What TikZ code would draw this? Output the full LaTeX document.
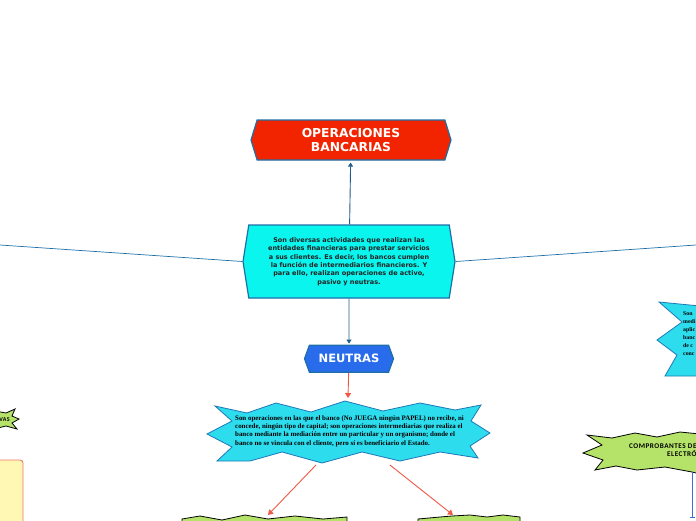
\documentclass[tikz,border=0pt]{standalone}
\usepackage{fontspec}
\setmainfont{Liberation Serif}
\newfontfamily\verd{DejaVu Sans}
\newfontfamily\carl[LetterSpace=7]{Carlito}
\usepackage{xcolor}
\usetikzlibrary{shapes,shapes.symbols}
\usetikzlibrary{arrows.meta}
\usetikzlibrary{positioning}

\definecolor{opred}{RGB}{242,36,0}
\definecolor{boxblue}{RGB}{30,110,168}
\definecolor{desccyan}{RGB}{10,245,238}
\definecolor{neublue}{RGB}{40,108,235}
\definecolor{burstcyan}{RGB}{45,221,238}
\definecolor{burstblue}{RGB}{30,120,184}
\definecolor{kidgreen}{RGB}{181,227,106}
\definecolor{linkblue}{RGB}{31,92,138}
\definecolor{arrowred}{RGB}{238,88,68}
\definecolor{notefill}{RGB}{255,247,180}
\definecolor{noteedge}{RGB}{240,122,106}
\definecolor{vline}{RGB}{59,111,214}
\definecolor{textdark}{RGB}{34,34,34}

\begin{document}
\begin{tikzpicture}[x=1pt,y=-1pt]
\tikzset{hexbox/.style={signal,signal to=west and east,draw=boxblue,line width=1.2pt,align=center,inner sep=0pt}}
\tikzset{link/.style={draw=linkblue,line width=0.9pt,-{Triangle[width=5pt,length=4pt]}}}
\tikzset{redlink/.style={draw=arrowred,line width=0.9pt,-{Triangle[width=6pt,length=5pt]}}}
\tikzset{side/.style={draw=boxblue,line width=0.7pt}}
\tikzset{burst/.style={fill=burstcyan,draw=burstblue,line width=0.8pt}}
\tikzset{kidburst/.style={fill=kidgreen,draw=black,line width=0.8pt}}
\useasboundingbox (0,0) rectangle (696,520);
\clip (0,0) rectangle (696,520);

% main boxes
\node[hexbox,fill=opred,text=white,minimum width=200pt,minimum height=40pt,signal pointer angle=146,font=\verd\bfseries\fontsize{12.3}{14.5}\selectfont](ops) at (351,140){OPERACIONES\\BANCARIAS};
\node[hexbox,fill=desccyan,text=textdark,minimum width=212pt,minimum height=73pt,signal pointer angle=162,font=\verd\bfseries\fontsize{6.5}{8.4}\selectfont](desc) at (349,261.5){Son diversas actividades que realizan las\\entidades financieras para prestar servicios\\a sus clientes. Es decir, los bancos cumplen\\la función de intermediarios financieros. Y\\para ello, realizan operaciones de activo,\\pasivo y neutras.};
\node[hexbox,fill=neublue,text=white,minimum width=89pt,minimum height=27pt,signal pointer angle=140,font=\verd\bfseries\fontsize{11.5}{14}\selectfont](neu)[below=46pt of desc]{NEUTRAS};

\coordinate (lftend) at (0,245);
\coordinate (rgtend) at (696,245);
\draw[link,shorten >=2pt](desc) -- (ops);
\draw[link,shorten >=1pt](desc) -- (neu);
\draw[side](desc.west) -- (lftend);
\draw[side](desc.east) -- (rgtend);

% neutras burst
\draw[burst](215,406) -- (247,413) -- (276,403) -- (311,412) -- (345,401) -- (383,411) -- (420,403) -- (455,410) -- (481,405) -- (471,421) -- (490,433) -- (470,446) -- (478,458) -- (440,452) -- (400,461) -- (362,452) -- (322,463) -- (282,452) -- (250,461) -- (217,461) -- (232,447) -- (207,434) -- (232,421) -- cycle;
\node[align=left,text=black,inner sep=0pt,anchor=north west,font=\bfseries\fontsize{6.9}{8.2}\selectfont](neudesc) at (235,415.5){Son operaciones en las que el banco (No JUEGA ningún PAPEL) no recibe, ni\\concede, ningún tipo de capital; son operaciones intermediarias que realiza el\\banco mediante la mediación entre un particular y un organismo; donde el\\banco no se vincula con el cliente, pero sí es beneficiario el Estado.};
\coordinate (neupk) at (348,398);
\draw[redlink](neu) -- (neupk);

% children below
\draw[kidburst](182,519) -- (200,516) -- (222,520) -- (245,515) -- (268,519) -- (295,516) -- (323,519) -- (347,517) -- (347,530) -- (182,530) -- cycle;
\draw[kidburst](418,519) -- (440,517) -- (452,516) -- (470,515) -- (487,517) -- (503,515) -- (520,517) -- (520,530) -- (418,530) -- cycle;
\coordinate (lfrom) at (316,465);
\coordinate (rfrom) at (390,465);
\coordinate (leftkid) at (268,515);
\coordinate (rightkid) at (453,515);
\draw[redlink](lfrom) -- (leftkid);
\draw[redlink](rfrom) -- (rightkid);

% left side
\draw[kidburst](-10,410) -- (6,413) -- (15,409) -- (12,416) -- (19,419) -- (12,423) -- (17,429) -- (6,426) -- (-10,430) -- cycle;
\node[anchor=east,inner sep=0pt,font=\carl\bfseries\fontsize{6}{7}\selectfont](actv) at (10,419.5){ACTIVAS};
\draw[fill=notefill,draw=noteedge,line width=0.9pt,rounded corners=3pt](-20,460) rectangle (23,540);

% right side
\draw[burst](659,302) -- (700,306) -- (700,376) -- (665,376) -- (677,355) -- (657,340) -- (682,322) -- cycle;
\node[anchor=north west,align=left,inner sep=0pt,font=\bfseries\fontsize{5.8}{8}\selectfont](rdesc) at (683,311){Son\\medi\\aplic\\banc\\de c\\conc};
\draw[kidburst](587,435) -- (612,438) -- (635,433) -- (657,437) -- (680,432) -- (700,434) -- (700,474) -- (692,472) -- (665,467) -- (637,470) -- (616,466) -- (595,470) -- (603,460) -- (583,453) -- (602,445) -- cycle;
\node[anchor=north west,align=left,inner sep=0pt,font=\carl\bfseries\fontsize{7.2}{7.8}\selectfont](comp) at (629,444){COMPROBANTES DE PAGO\\\hspace*{38pt}ELECTRÓNICOS};
\coordinate (compdown) at (692,518);
\draw[draw=vline,line width=0.9pt,-{Bar[width=5pt]}](692,472) -- (compdown);
\end{tikzpicture}
\end{document}
